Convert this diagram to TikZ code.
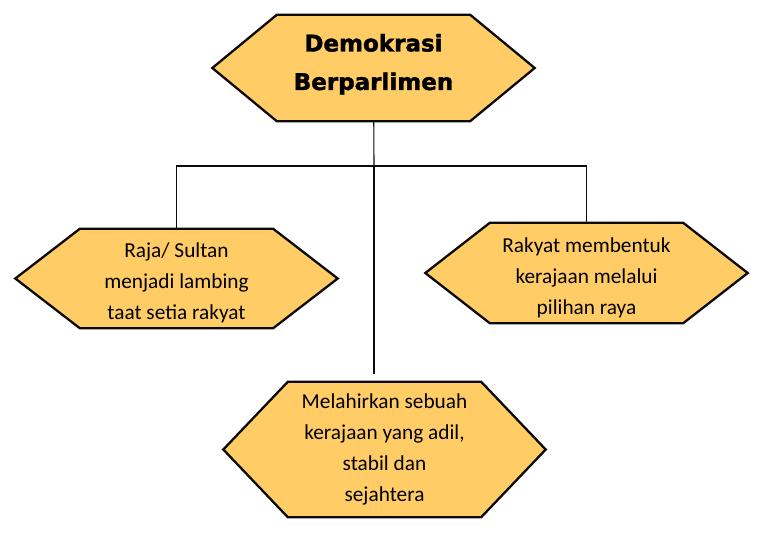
\documentclass[tikz,border=0pt]{standalone}
\usepackage{fontspec}
\setmainfont{Carlito}
\newfontfamily\titlefont[BoldFeatures={FakeBold=1.6}]{DejaVu Sans}
\usetikzlibrary{backgrounds,calc}
\definecolor{hexgold}{RGB}{255, 204, 102}
\definecolor{hexline}{RGB}{10, 10, 10}

\begin{document}
\begin{tikzpicture}[
    x=1pt, y=-1pt,
    hexbox/.style={
      rectangle,
      draw=none,
      minimum width=193pt,
      align=center,
      inner sep=0pt,
      font=\fontsize{21.3}{31}\selectfont
    },
    titlebox/.style={
      hexbox,
      font=\titlefont\bfseries\fontsize{23}{38.5}\selectfont
    },
    hexa/.style={fill=hexgold, draw=hexline, line width=2.3pt, line join=miter},
    link/.style={draw=hexline, line width=1.1pt}
  ]
    \useasboundingbox (0,0) rectangle (766,542);

    \node[titlebox, minimum height=106pt] (title) at (373.5,68) {\raisebox{5pt}[\height][\depth]{\begin{tabular}{c}Demokrasi\\Berparlimen\end{tabular}}};
    \node[hexbox, minimum height=99pt] (raja) at (176.5,278.5) {\raisebox{-4pt}[\height][\depth]{\begin{tabular}{c}Raja/ Sultan\\menjadi lambing\\taat setia rakyat\end{tabular}}};
    \node[hexbox, minimum height=100pt] (rakyat) at (586.5,273) {\raisebox{-4pt}[\height][\depth]{\begin{tabular}{c}Rakyat membentuk\\kerajaan melalui\\pilihan raya\end{tabular}}};
    \node[hexbox, minimum height=135pt] (adil) at (384.5,449.5) {Melahirkan sebuah\\kerajaan yang adil,\\stabil dan\\sejahtera};

    % hexagon outlines behind the texts
    \begin{scope}[on background layer]
      \foreach \n in {title, raja, rakyat, adil}
        \draw[hexa] (\n.north west) -- (\n.north east) -- ($(\n.east)+(64.5,0)$)
          -- (\n.south east) -- (\n.south west) -- ($(\n.west)-(64.5,0)$) -- cycle;
    \end{scope}

    \coordinate (bus) at (374,166);
    \draw[link] (title) -- (bus);
    \draw[link] (bus) -| (raja.north);
    \draw[link] (bus) -| (rakyat.north);
    \draw[link, shorten >=8pt] (bus) -- (bus |- adil.north);
  \end{tikzpicture}
\end{document}
